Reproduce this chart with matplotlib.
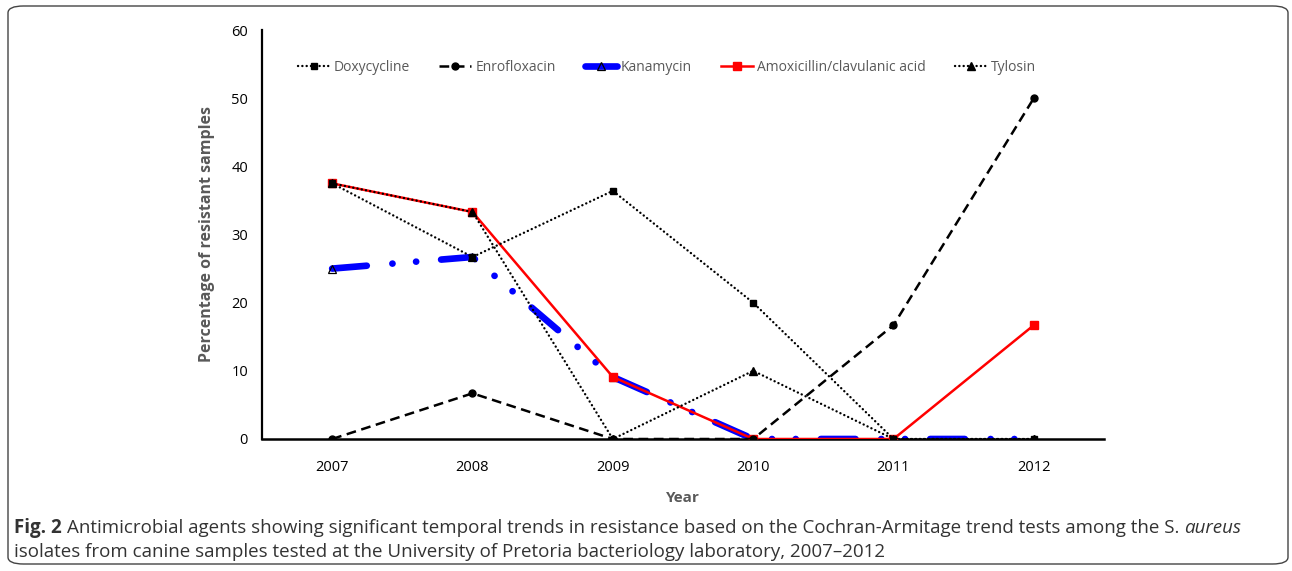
"""Tendencias de resistencia (S. aureus, caninos) 2007-2012."""
import matplotlib
matplotlib.use("Agg")
import matplotlib.pyplot as plt
from matplotlib.patches import FancyBboxPatch
from matplotlib import font_manager
import numpy as np

years = ["2007", "2008", "2009", "2010", "2011", "2012"]
doxycycline = [37.5, 26.7, 36.4, 20.0, 0.0, 0.0]
enrofloxacin = [0.0, 6.7, 0.0, 0.0, 16.7, 50.0]
kanamycin = [25.0, 26.7, 9.1, 0.0, 0.0, 0.0]
amoxiclav = [37.5, 33.3, 9.1, 0.0, 0.0, 16.7]
tylosin = [37.5, 33.3, 0.0, 10.0, 0.0, 0.0]
yticks = [0, 10, 20, 30, 40, 50, 60]

names = {f.name for f in font_manager.fontManager.ttflist}
main_font = "Open Sans" if "Open Sans" in names else "DejaVu Sans"
cap_font = "Liberation Sans Narrow" if "Liberation Sans Narrow" in names else main_font

plt.rcParams["font.family"] = [main_font, "DejaVu Sans"]
plt.rcParams["lines.scale_dashes"] = False

W, H = 1292, 571
fig = plt.figure(figsize=(W / 100, H / 100), dpi=100)
fig.patches.append(FancyBboxPatch((8 / W, 7 / H), 1280 / W, 558 / H,
                                  boxstyle="round,pad=0,rounding_size=0.012",
                                  transform=fig.transFigure, fill=False,
                                  ec="#444444", lw=1.0))

ax = fig.add_axes([262 / W, (H - 439) / H, (1104 - 262) / W, (439 - 30) / H])
x = np.arange(len(years))

ax.plot(x, kanamycin, color="#0000ff", lw=4.8, dashes=(25, 18.5, 0.1, 17, 0.1, 18),
        dash_capstyle="round", marker="^", ms=6, mfc="none", mec="black", mew=0.9,
        label="Kanamycin", zorder=2)
ax.plot(x, amoxiclav, color="#ff0000", lw=1.8, marker="s", ms=5.5,
        label="Amoxicillin/clavulanic acid", zorder=3)
ax.plot(x, doxycycline, color="black", lw=1.7, dashes=(0.1, 3.0), dash_capstyle="round",
        marker="s", ms=5, label="Doxycycline", zorder=4)
ax.plot(x, enrofloxacin, color="black", lw=1.8, dashes=(7, 4), marker="o", ms=5,
        label="Enrofloxacin", zorder=4)
ax.plot(x, tylosin, color="black", lw=1.7, dashes=(0.1, 3.0), dash_capstyle="round",
        marker="^", ms=6, label="Tylosin", zorder=4)

ax.set_xlim(-0.5, len(years) - 0.5)
ax.set_ylim(0, 60)
ax.set_xticks(x, years)
ax.set_yticks(yticks)
ax.tick_params(length=0, labelsize=10.5, colors="black")
ax.tick_params(axis="x", pad=15)
ax.tick_params(axis="y", pad=10)
for s in ["top", "right"]:
    ax.spines[s].set_visible(False)
ax.spines["left"].set_linewidth(1.6)
ax.spines["bottom"].set_linewidth(1.8)
ax.set_ylabel("Percentage of resistant samples", fontsize=11.5, fontweight="bold",
              color="#595959", labelpad=12)
ax.set_xlabel("Year", fontsize=11, fontweight="bold", color="#595959", labelpad=12)

h, l = ax.get_legend_handles_labels()
order = [2, 3, 0, 1, 4]
ax.legend([h[i] for i in order], [l[i] for i in order], ncol=5, frameon=False,
          loc="center", bbox_to_anchor=(0.481, 0.909), fontsize=10,
          labelcolor="#595959", handlelength=2.3, handletextpad=0.3, columnspacing=2.1)

# caption with mixed styles
r = fig.canvas.get_renderer()
csize = 13.5
cap_col = "#333333"


def put(px, py, s, **kw):
    t = fig.text(px / W, 1 - py / H, s, fontsize=csize, color=cap_col, family=cap_font,
                 va="baseline", ha="left", **kw)
    return px + t.get_window_extent(r).width


px = put(14, 533, "Fig. 2 ", fontweight="bold")
px = put(px, 533, "Antimicrobial agents showing significant temporal trends in resistance "
         "based on the Cochran-Armitage trend tests among the S. ")
put(px, 533, "aureus", style="italic")
put(14, 557, "isolates from canine samples tested at the University of Pretoria "
    "bacteriology laboratory, 2007\u20132012")

fig.savefig("out.png", dpi=100)
